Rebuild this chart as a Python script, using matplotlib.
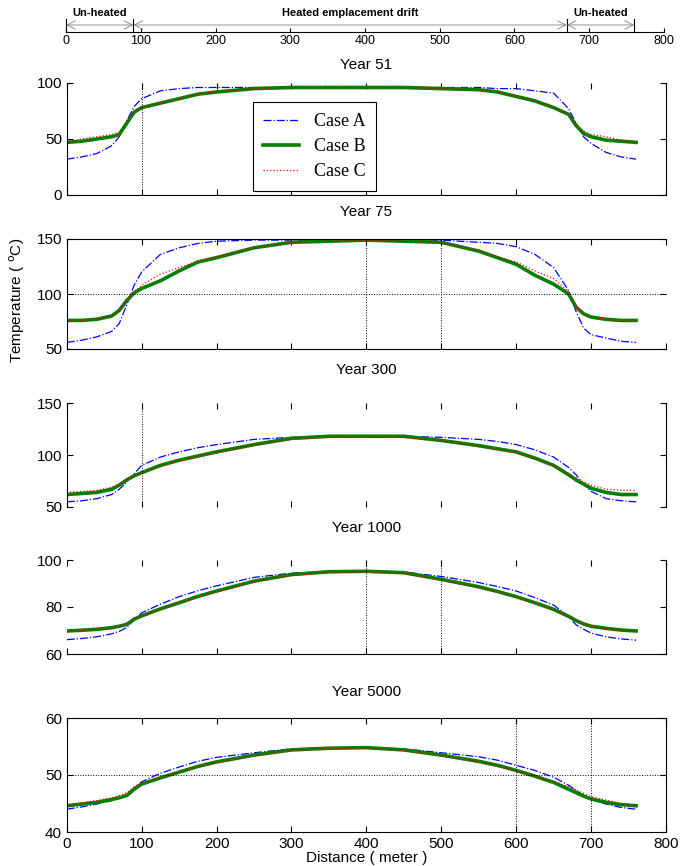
import matplotlib
matplotlib.use("Agg")
import matplotlib.pyplot as plt

plt.rcParams['font.family'] = ['Liberation Sans', 'DejaVu Sans']

distance = [0, 20, 40, 60, 70, 80, 90, 100, 125, 150, 175, 200, 250, 300, 350,
            400, 450, 500, 550, 575, 600, 625, 650, 670, 680, 690, 700, 720, 740, 760]

# Year 51
y51_a = [32, 34, 37, 44, 52, 66, 79, 86, 93, 95, 96, 96, 96, 96, 96,
         96, 96, 96, 96, 95, 95, 93, 91, 77, 64, 52, 46, 38, 34, 32]
y51_b = [47, 48, 50, 52, 54, 64, 74, 78, 82, 86, 90, 92, 95, 96, 96,
         96, 96, 95, 94, 92, 88, 84, 78, 72, 62, 55, 52, 49, 48, 47]
y51_c = [47, 50, 52, 54, 56, 65, 74, 78, 82, 86, 90, 92, 95, 96, 96,
         96, 96, 95, 94, 92, 88, 84, 78, 72, 63, 57, 54, 52, 49, 47]
# Year 75
y75_a = [56, 58, 61, 66, 73, 90, 108, 120, 136, 142, 146, 148, 149, 149, 149,
         149, 149, 149, 147, 146, 143, 136, 124, 103, 84, 69, 63, 60, 57, 56]
y75_b = [76, 76, 77, 80, 85, 94, 101, 105, 112, 121, 129, 133, 142, 147, 148,
         149, 148, 147, 139, 133, 127, 117, 109, 100, 88, 82, 79, 77, 76, 76]
y75_c = [75, 76, 77, 80, 85, 94, 102, 108, 118, 124, 130, 134, 142, 147, 148,
         149, 148, 147, 140, 134, 129, 121, 114, 102, 89, 82, 79, 77, 75, 75]
# Year 300
y300_a = [55, 56, 58, 62, 67, 74, 82, 90, 98, 103, 107, 110, 115, 117, 118,
          118, 118, 117, 115, 113, 110, 105, 98, 88, 81, 72, 65, 58, 56, 55]
y300_b = [62, 63, 64, 67, 71, 76, 80, 83, 90, 95, 99, 103, 110, 116, 118,
          118, 118, 114, 109, 106, 103, 97, 90, 81, 76, 72, 68, 64, 62, 62]
y300_c = [64, 65, 66, 69, 72, 76, 80, 83, 89, 94, 98, 102, 109, 115, 117,
          117, 117, 114, 108, 105, 102, 96, 90, 82, 78, 74, 71, 67, 66, 66]
# Year 1000
y1000_a = [66.1, 66.6, 67.3, 68.6, 69.6, 71.3, 74.5, 77.5, 81.2, 84.4, 86.9, 89.0, 92.6, 94.4, 95.1,
           95.3, 94.9, 93.0, 90.4, 88.7, 86.8, 84.0, 80.8, 76.0, 72.4, 70.5, 68.9, 67.3, 66.4, 65.9]
y1000_b = [69.8, 70.1, 70.5, 71.2, 71.8, 72.6, 74.8, 76.2, 79.2, 81.8, 84.5, 86.8, 91.0, 93.8, 95.0,
           95.2, 94.6, 91.8, 88.6, 86.6, 84.4, 81.8, 79.0, 76.0, 74.2, 72.8, 71.8, 70.9, 70.2, 69.8]
y1000_c = [69.6, 70.0, 70.6, 71.4, 72.0, 72.8, 75.2, 76.4, 79.0, 81.5, 84.2, 86.4, 90.6, 93.4, 94.7,
           94.8, 94.2, 91.3, 88.2, 86.3, 84.2, 81.6, 78.9, 76.2, 74.5, 73.0, 71.9, 70.8, 70.0, 69.6]
# Year 5000
y5000_a = [44.0, 44.4, 44.9, 45.5, 45.9, 46.4, 47.8, 48.8, 50.3, 51.4, 52.4, 53.1, 53.9, 54.6, 54.8,
           54.8, 54.6, 53.9, 53.2, 52.6, 51.7, 50.8, 49.6, 48.2, 47.3, 46.4, 45.7, 44.9, 44.3, 44.0]
y5000_b = [44.6, 44.9, 45.2, 45.7, 46.0, 46.4, 47.5, 48.4, 49.5, 50.5, 51.5, 52.3, 53.5, 54.4, 54.7,
           54.8, 54.4, 53.5, 52.4, 51.7, 50.8, 49.8, 48.7, 47.5, 46.9, 46.3, 45.8, 45.2, 44.8, 44.6]
y5000_c = [44.7, 45.1, 45.5, 46.0, 46.4, 46.9, 47.9, 48.6, 49.6, 50.6, 51.4, 52.1, 53.3, 54.3, 54.6,
           54.7, 54.3, 53.3, 52.2, 51.5, 50.7, 49.8, 48.9, 47.9, 47.3, 46.8, 46.2, 45.6, 45.0, 44.7]

titles = ['Year 51', 'Year 75', 'Year 300', 'Year 1000', 'Year 5000']
series = [(y51_a, y51_b, y51_c), (y75_a, y75_b, y75_c), (y300_a, y300_b, y300_c),
          (y1000_a, y1000_b, y1000_c), (y5000_a, y5000_b, y5000_c)]
ylims = [(0, 100), (50, 150), (50, 150), (60, 100), (40, 60)]
yticks = [[0, 50, 100], [50, 100, 150], [50, 100, 150], [60, 80, 100], [40, 50, 60]]
case_labels = ['Case A', 'Case B', 'Case C']

zones = [0, 90, 670, 760]
zone_names = ['Un-heated', 'Heated emplacement drift', 'Un-heated']

W, H = 681, 866
fig = plt.figure(figsize=(W / 100, H / 100), dpi=100)

# schematic strip on top
top = fig.add_axes([0.097, 1 - 32 / H, 0.878, 0.03])
top.set_xlim(0, 800)
top.set_ylim(0, 1)
for s in ['top', 'left', 'right']:
    top.spines[s].set_visible(False)
top.set_yticks([])
top.set_xticks(range(0, 801, 100))
top.tick_params(axis='x', direction='in', length=3, labelsize=9, pad=2)
for z in zones:
    top.plot([z, z], [0, 0.5], color='black', lw=0.8, clip_on=False)
for i in range(3):
    top.annotate('', xy=(zones[i], 0.27), xytext=(zones[i + 1], 0.27),
                 arrowprops=dict(arrowstyle='<->,head_length=0.6,head_width=0.3',
                                 color='gray', lw=0.6, shrinkA=0, shrinkB=0))
    top.text((zones[i] + zones[i + 1]) / 2, 0.55, zone_names[i], ha='center',
             va='bottom', fontsize=8, fontweight='bold', clip_on=False)

# axes boxes in pixels: (top, bottom)
rows = [(83, 195), (239, 349), (403, 507), (560, 654), (718, 832)]
title_y = [65, 212, 370, 528, 692]
hidden = [['top'], ['right'], ['top', 'bottom'], ['top', 'left'], []]
vgrid = [[100], [400, 500], [100], [400, 500], [600, 700]]
hgrid = [[], [100], [], [], [50]]

for k in range(5):
    t, b_ = rows[k]
    ax = fig.add_axes([0.098, 1 - b_ / H, 0.88, (b_ - t) / H])
    a, b, c = series[k]
    ax.plot(distance, a, color='blue', lw=0.9, ls='-.', label=case_labels[0])
    ax.plot(distance, b, color='green', lw=2.6, ls='-', label=case_labels[1])
    ax.plot(distance, c, color='red', lw=0.9, ls=':', label=case_labels[2])
    for v in vgrid[k]:
        ax.axvline(v, color='black', lw=0.7, ls=':')
    for h in hgrid[k]:
        ax.axhline(h, color='black', lw=0.7, ls=':')
    ax.set_xlim(0, 800)
    ax.set_ylim(*ylims[k])
    ax.set_yticks(yticks[k])
    ax.set_xticks(range(0, 801, 100))
    ax.tick_params(direction='in', labelsize=11, length=4, top=True, right=True)
    for s in hidden[k]:
        ax.spines[s].set_visible(False)
    fig.text(0.098 + 0.44, 1 - title_y[k] / H, titles[k], ha='center',
             va='center', fontsize=11)
    if k < 4:
        ax.set_xticklabels([])
    else:
        ax.set_xlabel('Distance ( meter )', fontsize=11, labelpad=0)
    if k == 0:
        leg = ax.legend(loc='upper left', bbox_to_anchor=(0.31, 0.83),
                        prop={'family': 'Liberation Serif', 'size': 13},
                        fancybox=False, edgecolor='black', framealpha=1,
                        handlelength=2.0, borderpad=0.6, labelspacing=0.45,
                        handletextpad=0.8, borderaxespad=0)
        leg.get_frame().set_linewidth(0.8)

fig.text(0.025, 1 - 300 / H, 'Temperature ( $^{\\mathrm{o}}$C)', rotation=90,
         ha='center', va='center', fontsize=11)

fig.savefig('out.png', dpi=100)
